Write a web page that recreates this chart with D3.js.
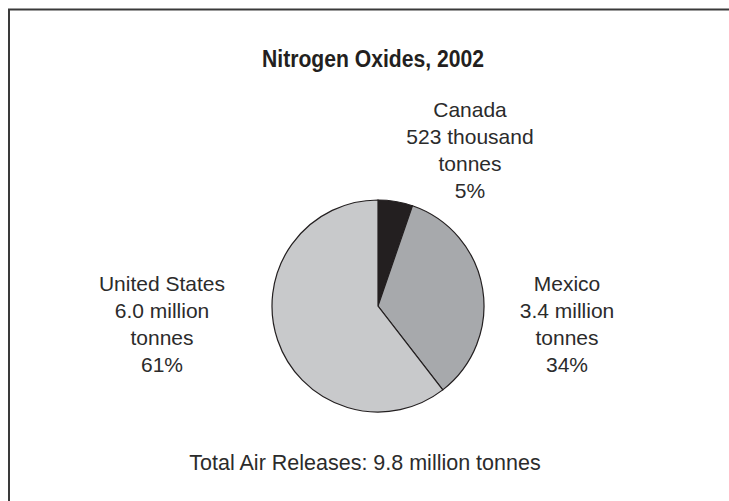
<!DOCTYPE html>
<html>
<head>
<meta charset="utf-8">
<script src="https://cdn.jsdelivr.net/npm/d3@7"></script>
<style>
  html, body { margin: 0; padding: 0; background: #fff; }
  svg { display: block; }
</style>
</head>
<body>
<div id="chart"></div>
<script>
// data
const countries = ['Canada', 'Mexico', 'United States'];
const releases = [0.523, 3.4, 6.0];            // million tonnes
const amountText = ['523 thousand', '3.4 million', '6.0 million'];
const shareText = ['5%', '34%', '61%'];
const sliceColors = ['#231f20', '#a7a9ac', '#c8c9cb'];
const titleText = 'Nitrogen Oxides, 2002';
const totalText = 'Total Air Releases: 9.8 million tonnes';

(function(){
  const W = 729, H = 501;
  const FONT = '"Liberation Sans", Arial, sans-serif';
  const INK = '#231f20';
  const center = {x: 378, y: 306};
  const radius = 106;
  // label block anchors (x centre, first baseline)
  const labelPos = [
    {x: 470, y: 117},
    {x: 567, y: 291},
    {x: 162, y: 291}
  ];
  const lineH = 27;

  const svg = d3.select('#chart').append('svg')
    .attr('width', W)
    .attr('height', H)
    .attr('font-family', FONT);

  // frame (runs off right and bottom edges)
  svg.append('rect')
    .attr('x', 9).attr('y', 9.5)
    .attr('width', W).attr('height', H)
    .attr('fill', 'none')
    .attr('stroke', '#3a3a3a')
    .attr('stroke-width', 2);

  // condensed bold title
  svg.append('text')
    .attr('x', 262).attr('y', 67)
    .attr('font-weight', 'bold')
    .attr('font-size', 23)
    .attr('textLength', 222)
    .attr('lengthAdjust', 'spacingAndGlyphs')
    .attr('fill', INK)
    .text(titleText);

  const data = countries.map((c, i) => ({name: c, value: releases[i], i}));
  const pie = d3.pie().sort(null).value(d => d.value);
  const arc = d3.arc().innerRadius(0).outerRadius(radius);

  const g = svg.append('g')
    .attr('transform', `translate(${center.x},${center.y})`);
  g.selectAll('path')
    .data(pie(data))
    .join('path')
    .attr('d', arc)
    .attr('fill', d => sliceColors[d.data.i])
    .attr('stroke', INK)
    .attr('stroke-width', 1.2);

  // labels
  const labels = svg.selectAll('text.lbl')
    .data(data)
    .join('text')
    .attr('class', 'lbl')
    .attr('text-anchor', 'middle')
    .attr('font-size', 21)
    .attr('fill', '#2b2b2b');
  labels.each(function(d){
    const lines = [d.name, amountText[d.i], 'tonnes', shareText[d.i]];
    const p = labelPos[d.i];
    d3.select(this).selectAll('tspan')
      .data(lines)
      .join('tspan')
      .attr('x', p.x)
      .attr('y', (l, k) => p.y + k * lineH)
      .text(l => l);
  });

  svg.append('text')
    .attr('x', 365).attr('y', 470)
    .attr('text-anchor', 'middle')
    .attr('font-size', 21.5)
    .attr('fill', '#2b2b2b')
    .text(totalText);
})();
</script>
</body>
</html>
